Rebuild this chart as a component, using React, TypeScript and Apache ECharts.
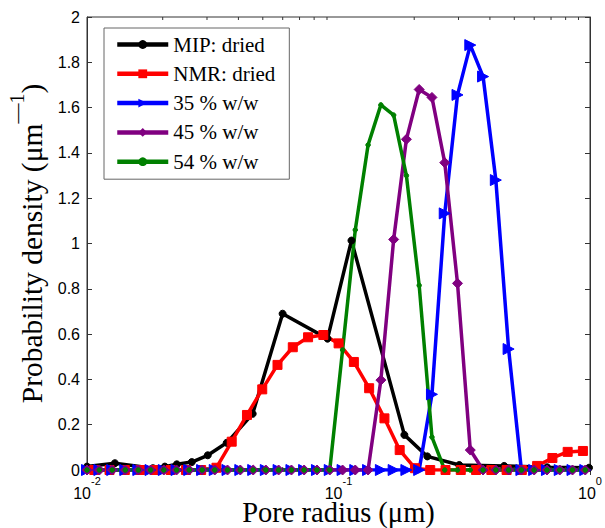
import React, { useEffect, useRef } from 'react';
import * as echarts from 'echarts';

// Common radius grid (µm) of the hydrated samples
const wetRadius = [
  0.0100, 0.0112, 0.0126, 0.0142, 0.0160, 0.0179, 0.0202, 0.0227, 0.0255, 0.0287,
  0.0322, 0.0362, 0.0407, 0.0458, 0.0514, 0.0578, 0.0650, 0.0730, 0.0821, 0.0923,
  0.1038, 0.1166, 0.1311, 0.1474, 0.1657, 0.1862, 0.2093, 0.2353, 0.2645, 0.2973,
  0.3342, 0.3757, 0.4223, 0.4747, 0.5336, 0.5998, 0.6742, 0.7579, 0.8519, 0.9576,
];
const w35 = [
  0, 0, 0, 0, 0, 0, 0, 0, 0, 0, 0, 0, 0, 0, 0, 0, 0, 0, 0, 0,
  0, 0, 0, 0, 0, 0, 0, 0.334, 1.133, 1.656, 1.876, 1.737, 1.28, 0.534, 0, 0, 0, 0, 0, 0,
];
const w45 = [
  0, 0, 0, 0, 0, 0, 0, 0, 0, 0, 0, 0, 0, 0, 0, 0, 0, 0, 0, 0,
  0, 0, 0, 0.397, 1.018, 1.46, 1.68, 1.645, 1.357, 0.824, 0.088, 0, 0, 0, 0, 0, 0, 0, 0, 0,
];
const w54 = [
  0, 0, 0, 0, 0, 0, 0, 0, 0, 0, 0, 0, 0, 0, 0, 0, 0, 0, 0, 0,
  0.53, 1.06, 1.435, 1.612, 1.567, 1.30, 0.815, 0.145, 0, 0, 0, 0, 0, 0, 0, 0, 0, 0, 0, 0,
];

// MIP: dried
const mipRadius = [
  0.0100, 0.01291, 0.01828, 0.02040, 0.02276, 0.02610, 0.03021, 0.03594, 0.04558,
  0.05995, 0.09045, 0.1126, 0.1828, 0.2255, 0.3021, 0.4558, 0.6752, 0.9908,
];
const mipDensity = [
  0.015, 0.03, 0.008, 0.015, 0.025, 0.035, 0.065, 0.12, 0.248,
  0.69, 0.58, 1.013, 0.155, 0.06, 0.022, 0.018, 0.012, 0.01,
];

// NMR: dried
const nmrRadius = [
  0.01069, 0.01229, 0.01414, 0.01626, 0.01870, 0.02150, 0.02474, 0.02844, 0.03271,
  0.03762, 0.04326, 0.04975, 0.05721, 0.06580, 0.07568, 0.08704, 0.1001, 0.1151,
  0.1324, 0.1523, 0.1751, 0.2014, 0.2316, 0.2664, 0.3063, 0.3523, 0.4052, 0.4660,
  0.5358, 0.6163, 0.7087, 0.8151, 0.9372,
];
const nmrDensity = [
  0, 0, 0, 0, 0, 0, 0, 0, 0.01,
  0.125, 0.243, 0.356, 0.464, 0.542, 0.586, 0.596, 0.559, 0.477,
  0.361, 0.228, 0.088, 0.008, 0, 0, 0, 0, 0, 0,
  0, 0.018, 0.053, 0.08, 0.084,
];

const legendNames = ['MIP: dried', 'NMR: dried', '35 % w/w', '45 % w/w', '54 % w/w'];
const xMinorTicks = [0.02, 0.03, 0.04, 0.05, 0.06, 0.07, 0.08, 0.09, 0.2, 0.3, 0.4, 0.5, 0.6, 0.7, 0.8, 0.9];

const SERIF = '"Liberation Serif", "Times New Roman", serif';
const SANS = '"Liberation Sans", Arial, Helvetica, sans-serif';
const AXIS_COLOR = '#333';
const LINE_W = 3.5;

const zip = (xs: number[], ys: number[]) => xs.map((x, i) => [x, ys[i]]);

export default function App() {
  const ref = useRef<HTMLDivElement>(null);

  useEffect(() => {
    if (!ref.current) return;
    const chart = echarts.init(ref.current, null, { renderer: 'svg' });

    const logLabel = {
      show: true,
      margin: 5,
      formatter: (v: number) => {
        const e = Math.round(Math.log10(v));
        return `{b|10}{s|${e}}`;
      },
      rich: {
        b: { fontFamily: SANS, fontSize: 16, color: '#000', lineHeight: 26, verticalAlign: 'bottom' },
        s: { fontFamily: SANS, fontSize: 11, color: '#000', lineHeight: 26, verticalAlign: 'top' },
      },
    };

    const lineSeries = (name: string, data: number[][], color: string, symbol: string, size: number, extra: any = {}) => ({
      name,
      type: 'line',
      data,
      symbol,
      symbolSize: size,
      showSymbol: true,
      lineStyle: { color, width: LINE_W },
      itemStyle: { color, borderColor: color },
      clip: true,
      ...extra,
    });

    const option: any = {
      animation: false,
      backgroundColor: '#fff',
      grid: {
        left: 87, right: 15, top: 17, bottom: 58,
        containLabel: false,
        outerBoundsMode: 'none',
        show: true, borderColor: AXIS_COLOR, borderWidth: 1, backgroundColor: 'transparent',
      },
      legend: {
        orient: 'vertical',
        left: 104,
        top: 28,
        itemWidth: 51,
        itemHeight: 11,
        itemGap: 8.3,
        padding: [6, 14, 7, 11],
        borderColor: '#666',
        borderWidth: 1,
        backgroundColor: '#fff',
        lineStyle: { width: 4.5 },
        textStyle: { fontFamily: SERIF, fontSize: 21, color: '#000', lineHeight: 20 },
        data: legendNames,
      },
      xAxis: [
        {
          type: 'log',
          logBase: 10,
          min: 0.01,
          max: 1,
          position: 'bottom',
          axisLine: { show: true, lineStyle: { color: AXIS_COLOR } },
          axisTick: { show: true, inside: true, length: 5, lineStyle: { color: AXIS_COLOR } },
          axisLabel: logLabel,
          splitLine: { show: false },
          name: 'Pore radius (μm)',
          nameLocation: 'middle',
          nameGap: 31,
          nameMoveOverlap: false,
          nameTextStyle: { fontFamily: SERIF, fontSize: 28.5, lineHeight: 22, color: '#000' },
        },
        {
          type: 'log',
          logBase: 10,
          min: 0.01,
          max: 1,
          position: 'top',
          axisLine: { show: true, lineStyle: { color: AXIS_COLOR } },
          axisTick: { show: true, inside: true, length: 5, lineStyle: { color: AXIS_COLOR } },
          axisLabel: { show: false },
          splitLine: { show: false },
        },
      ],
      yAxis: [
        {
          type: 'value',
          min: 0,
          max: 2,
          interval: 0.2,
          position: 'left',
          axisLine: { show: true, lineStyle: { color: AXIS_COLOR } },
          axisTick: { show: true, inside: true, length: 5, lineStyle: { color: AXIS_COLOR } },
          axisLabel: { fontFamily: SANS, fontSize: 16, color: '#000', margin: 7 },
          splitLine: { show: false },
          name: '{m|Probability density (μm}{s|—1}{m|)}',
          nameLocation: 'middle',
          nameRotate: 90,
          nameGap: 40,
          nameMoveOverlap: false,
          nameTextStyle: {
            color: '#000',
            rich: {
              m: { fontFamily: SERIF, fontSize: 29.5, color: '#000', lineHeight: 40, verticalAlign: 'bottom' },
              s: { fontFamily: SERIF, fontSize: 20, color: '#000', lineHeight: 40, verticalAlign: 'top' },
            },
          },
        },
        {
          type: 'value',
          min: 0,
          max: 2,
          interval: 0.2,
          position: 'right',
          axisLine: { show: true, lineStyle: { color: AXIS_COLOR } },
          axisTick: { show: true, inside: true, length: 5, lineStyle: { color: AXIS_COLOR } },
          axisLabel: { show: false },
          splitLine: { show: false },
        },
      ],
      series: [
        lineSeries(legendNames[0], zip(mipRadius, mipDensity), '#000000', 'circle', 7),
        lineSeries(legendNames[1], zip(nmrRadius, nmrDensity), '#ff0000', 'rect', 9),
        lineSeries(legendNames[2], zip(wetRadius, w35), '#0000ff', 'triangle', 11, { symbolRotate: -90 }),
        lineSeries(legendNames[3], zip(wetRadius, w45), '#800080', 'diamond', 10),
        lineSeries(legendNames[4], zip(wetRadius, w54), '#008000', 'circle', 4.5),
      ],
    };

    chart.setOption(option);

    const yBottom = chart.convertToPixel({ yAxisIndex: 0 }, 0) as number;
    const yTop = chart.convertToPixel({ yAxisIndex: 0 }, 2) as number;
    const minor: any[] = [];
    xMinorTicks.forEach((v) => {
      const px = chart.convertToPixel({ xAxisIndex: 0 }, v) as number;
      minor.push({ type: 'line', silent: true, z: 10, shape: { x1: px, y1: yBottom, x2: px, y2: yBottom - 3 }, style: { stroke: AXIS_COLOR, lineWidth: 1 } });
      minor.push({ type: 'line', silent: true, z: 10, shape: { x1: px, y1: yTop, x2: px, y2: yTop + 3 }, style: { stroke: AXIS_COLOR, lineWidth: 1 } });
    });
    chart.setOption({ graphic: minor });

    return () => chart.dispose();
  }, []);

  return <div ref={ref} style={{ position: 'fixed', left: 0, top: 0, width: 605, height: 528 }} />;
}
